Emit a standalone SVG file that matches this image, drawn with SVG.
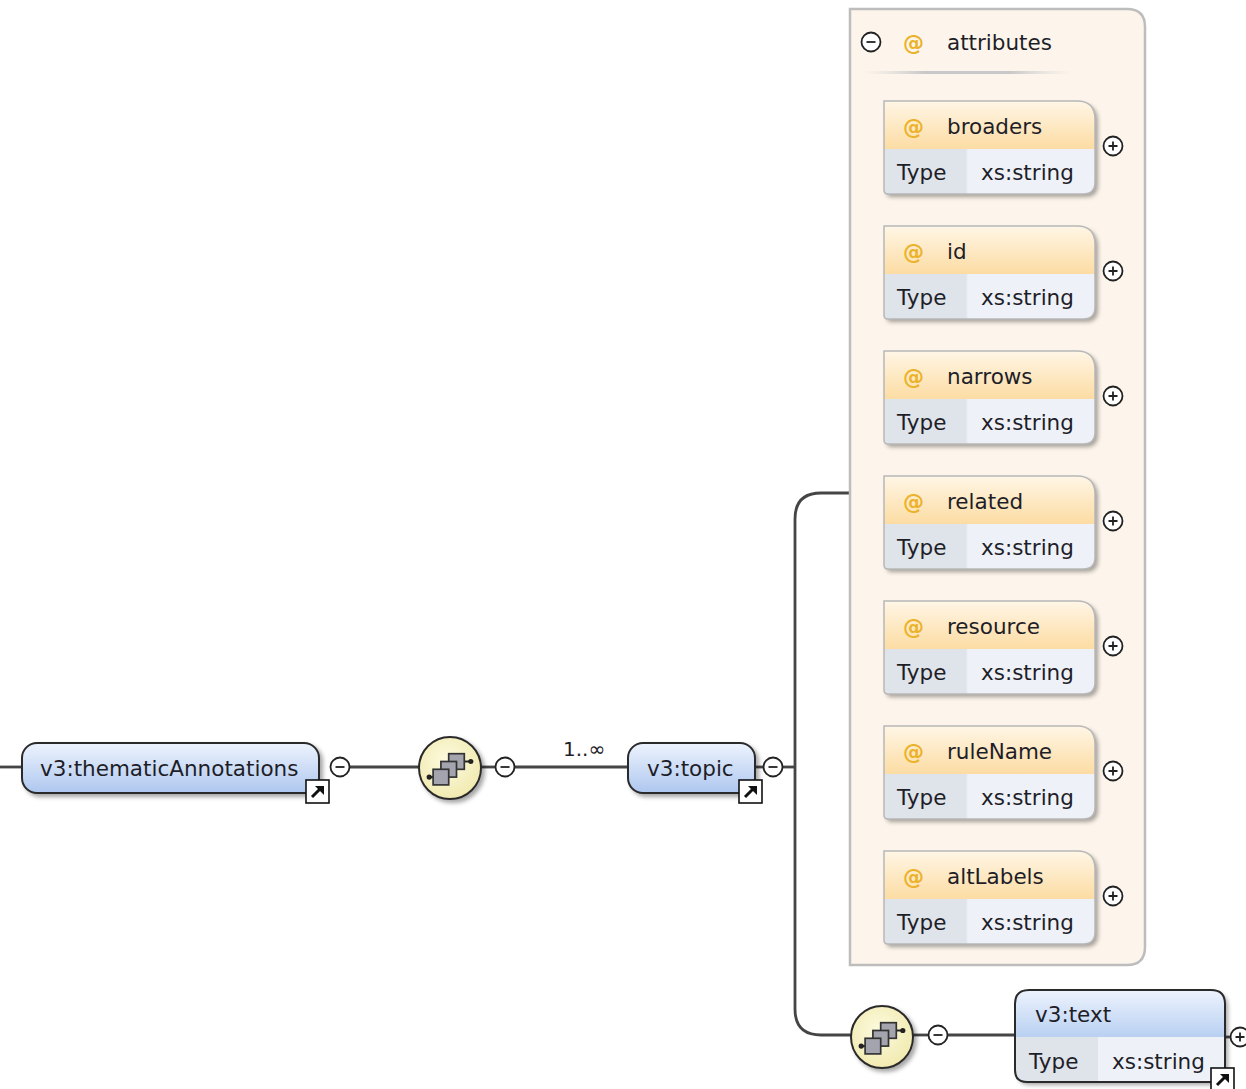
<svg xmlns="http://www.w3.org/2000/svg" width="1246" height="1089" viewBox="0 0 1246 1089">
<style>
text{font-family:"DejaVu Sans","Liberation Sans",Arial,sans-serif;fill:#1e1e28}
.lbl{font-size:21.5px}
.at{font-size:21px;font-weight:bold;fill:#ebb22a}
.conn{fill:none;stroke:#454545;stroke-width:2.8}
.elem{stroke:#2a2a2a;stroke-width:2;fill:url(#blueG)}
.attr{stroke:#b8b8b8;stroke-width:1.5}
.ctl{fill:#fff;stroke:#222;stroke-width:1.8}
.ctlm{stroke:#222;stroke-width:1.8}
.seq{fill:url(#yelG);stroke:#2a2a2a;stroke-width:2}
.sq{fill:#a4a4ae;stroke:#333;stroke-width:1.3}
</style>
<defs>
<linearGradient id="blueG" x1="0" y1="0" x2="0" y2="1">
<stop offset="0" stop-color="#edf3fd"/><stop offset="1" stop-color="#aec7ef"/>
</linearGradient>
<linearGradient id="blueH" x1="0" y1="0" x2="0" y2="1">
<stop offset="0" stop-color="#edf3fd"/><stop offset="1" stop-color="#b9d0f2"/>
</linearGradient>
<linearGradient id="orgG" x1="0" y1="0" x2="0" y2="1">
<stop offset="0" stop-color="#fff6e6"/><stop offset="1" stop-color="#fcdca3"/>
</linearGradient>
<radialGradient id="yelG" cx="0.45" cy="0.4" r="0.6">
<stop offset="0" stop-color="#fdfbe0"/><stop offset="1" stop-color="#f1eab0"/>
</radialGradient>
<linearGradient id="sepG" x1="0" y1="0" x2="1" y2="0">
<stop offset="0" stop-color="#d8d8d8" stop-opacity="0"/><stop offset="0.3" stop-color="#c8c8c8"/><stop offset="0.7" stop-color="#c8c8c8"/><stop offset="1" stop-color="#d8d8d8" stop-opacity="0"/>
</linearGradient>
<filter id="sh" x="-10%" y="-10%" width="130%" height="140%">
<feDropShadow dx="3" dy="3" stdDeviation="2" flood-color="#000" flood-opacity="0.35"/>
</filter>
<clipPath id="attrClip"><path d="M0 0H193Q211 0 211 18V81Q211 93 199 93H4Q0 93 0 89Z"/></clipPath>
<clipPath id="textClip"><path d="M14 0H196Q210 0 210 14V80Q210 92 198 92H12Q0 92 0 80V14Q0 0 14 0Z"/></clipPath>
<g id="attrBody">
<path d="M0 0H193Q211 0 211 18V81Q211 93 199 93H4Q0 93 0 89Z" fill="#eef2f8" filter="url(#sh)"/>
<g clip-path="url(#attrClip)">
<rect x="0" y="0" width="211" height="48" fill="url(#orgG)"/>
<rect x="0" y="48" width="83" height="45" fill="#dfe3ea"/>
<rect x="83" y="48" width="128" height="45" fill="#eef2f8"/>
<line x1="83" y1="48" x2="83" y2="93" stroke="#e8eaee" stroke-width="1"/>
</g>
<path class="attr" fill="none" d="M0 0H193Q211 0 211 18V81Q211 93 199 93H4Q0 93 0 89Z"/>
<text class="at" x="19" y="33">@</text>
<text class="lbl" x="13" y="79">Type</text>
<text class="lbl" x="97" y="79">xs:string</text>
<circle class="ctl" cx="229" cy="45" r="9.5"/>
<path class="ctlm" d="M224.5 45H233.5M229 40.5V49.5"/>
</g>
<g id="seqIcon">
<circle class="seq" cx="0" cy="0" r="31" filter="url(#sh)"/>
<g transform="scale(1.3)">
<line x1="-16" y1="7" x2="-13" y2="7" stroke="#222" stroke-width="1.5"/>
<line x1="11" y1="-5" x2="16" y2="-5" stroke="#222" stroke-width="1.5"/>
<circle cx="-16" cy="7" r="2" fill="#222"/>
<circle cx="16" cy="-5" r="2" fill="#222"/>
<rect class="sq" x="-1" y="-11" width="12" height="12"/>
<rect class="sq" x="-7" y="-5" width="12" height="12"/>
<rect class="sq" x="-13" y="1" width="12" height="12"/>
</g>
</g>
<g id="linkBox">
<rect x="0" y="0" width="23" height="23" fill="#fff" stroke="#111" stroke-width="1.6"/>
<path d="M6 17L15 8" stroke="#111" stroke-width="3"/>
<path d="M9 6H18V15Z" fill="#111"/>
</g>
</defs>

<g id="connectors">
<line class="conn" x1="0" y1="767" x2="22" y2="767"/>
<line class="conn" x1="349" y1="767" x2="419" y2="767"/>
<line class="conn" x1="481" y1="767" x2="496" y2="767"/>
<line class="conn" x1="514" y1="767" x2="628" y2="767"/>
<line class="conn" x1="755" y1="767" x2="764" y2="767"/>
<line class="conn" x1="782" y1="767" x2="795" y2="767"/>
<path class="conn" d="M850 493H821Q795 493 795 519V1009Q795 1035 821 1035H852"/>
<line class="conn" x1="913" y1="1035" x2="929" y2="1035"/>
<line class="conn" x1="947" y1="1035" x2="1015" y2="1035"/>
<line class="conn" x1="1225" y1="1037" x2="1231" y2="1037"/>
<text x="563" y="756" style="font-size:20px">1..∞</text>
</g>

<g id="node-thematicAnnotations">
<rect class="elem" x="22" y="743" width="297" height="50" rx="15" filter="url(#sh)"/>
<text class="lbl" x="40" y="776">v3:thematicAnnotations</text>
<use href="#linkBox" x="306" y="780"/>
<circle class="ctl" cx="340" cy="767" r="9.5"/>
<path class="ctlm" d="M335.5 767H344.5"/>
</g>

<g id="node-sequence1">
<use href="#seqIcon" x="450" y="768"/>
<circle class="ctl" cx="505" cy="767" r="9.5"/>
<path class="ctlm" d="M500.5 767H509.5"/>
</g>

<g id="node-topic">
<rect class="elem" x="628" y="743" width="127" height="50" rx="15" filter="url(#sh)"/>
<text class="lbl" x="647" y="776">v3:topic</text>
<use href="#linkBox" x="739" y="780"/>
<circle class="ctl" cx="773" cy="767" r="9.5"/>
<path class="ctlm" d="M768.5 767H777.5"/>
</g>

<g id="node-attributes">
<path d="M850 9H1127Q1145 9 1145 27V947Q1145 965 1127 965H850Z" fill="#fdf5eb" stroke="#bdbdbd" stroke-width="2.5"/>
<circle class="ctl" cx="871" cy="42" r="9.5"/>
<path class="ctlm" d="M866.5 42H875.5"/>
<text class="at" x="903" y="50">@</text>
<text class="lbl" x="947" y="50">attributes</text>
<rect x="862" y="71" width="210" height="3" fill="url(#sepG)"/>
</g>

<g id="attr-broaders" transform="translate(884,101)"><use href="#attrBody"/><text class="lbl" x="63" y="33">broaders</text></g>
<g id="attr-id" transform="translate(884,226)"><use href="#attrBody"/><text class="lbl" x="63" y="33">id</text></g>
<g id="attr-narrows" transform="translate(884,351)"><use href="#attrBody"/><text class="lbl" x="63" y="33">narrows</text></g>
<g id="attr-related" transform="translate(884,476)"><use href="#attrBody"/><text class="lbl" x="63" y="33">related</text></g>
<g id="attr-resource" transform="translate(884,601)"><use href="#attrBody"/><text class="lbl" x="63" y="33">resource</text></g>
<g id="attr-ruleName" transform="translate(884,726)"><use href="#attrBody"/><text class="lbl" x="63" y="33">ruleName</text></g>
<g id="attr-altLabels" transform="translate(884,851)"><use href="#attrBody"/><text class="lbl" x="63" y="33">altLabels</text></g>

<g id="node-sequence2">
<use href="#seqIcon" x="882" y="1037"/>
<circle class="ctl" cx="938" cy="1035" r="9.5"/>
<path class="ctlm" d="M933.5 1035H942.5"/>
</g>

<g id="node-text" transform="translate(1015,990)">
<path d="M14 0H196Q210 0 210 14V80Q210 92 198 92H12Q0 92 0 80V14Q0 0 14 0Z" fill="#eef2f8" filter="url(#sh)"/>
<g clip-path="url(#textClip)">
<rect x="0" y="0" width="210" height="47" fill="url(#blueH)"/>
<rect x="0" y="47" width="83" height="45" fill="#dfe3ea"/>
<rect x="83" y="47" width="127" height="45" fill="#eef2f8"/>
</g>
<path d="M14 0H196Q210 0 210 14V80Q210 92 198 92H12Q0 92 0 80V14Q0 0 14 0Z" fill="none" stroke="#2a2a2a" stroke-width="2"/>
<text class="lbl" x="20" y="32">v3:text</text>
<text class="lbl" x="14" y="79">Type</text>
<text class="lbl" x="97" y="79">xs:string</text>
<use href="#linkBox" x="196" y="78"/>
<circle class="ctl" cx="225" cy="47" r="9.5"/>
<path class="ctlm" d="M220.5 47H229.5M225 42.5V51.5"/>
</g>
</svg>
